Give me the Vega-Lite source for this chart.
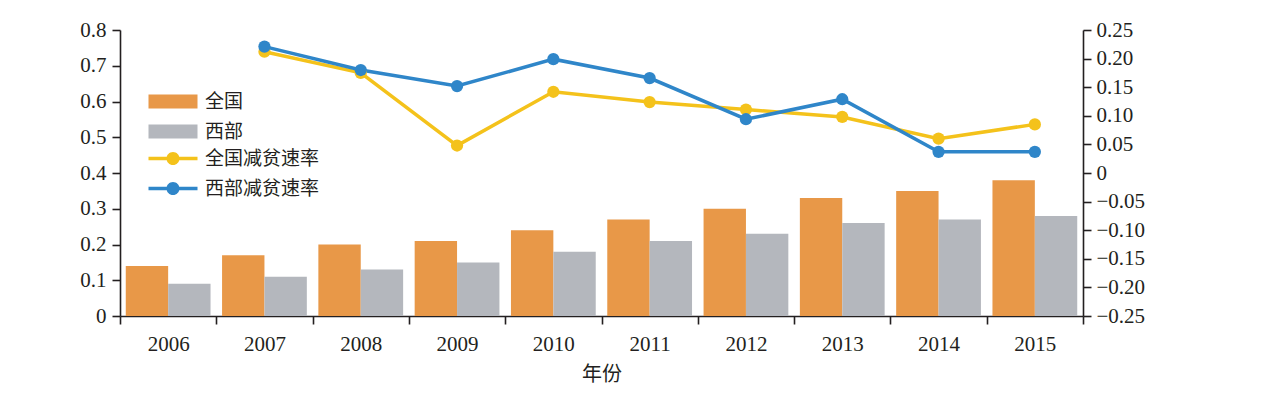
{
  "$schema": "https://vega.github.io/schema/vega-lite/v6.json",
  "width": 963,
  "height": 286,
  "autosize": {"type": "none"},
  "padding": {"left": 120, "top": 30, "right": 186, "bottom": 81},
  "background": "white",
  "config": {
    "view": {"stroke": null},
    "font": "Liberation Serif",
    "axis": {
      "domainColor": "#231f20",
      "tickColor": "#231f20",
      "labelColor": "#231f20",
      "titleColor": "#231f20",
      "grid": false,
      "labelFont": "Liberation Serif",
      "labelFontSize": 21,
      "domainWidth": 1.6,
      "tickWidth": 1.6,
      "tickSize": 8
    },
    "legend": {
      "labelFont": "Noto Sans CJK SC",
      "labelFontSize": 19,
      "labelColor": "#231f20",
      "padding": 0
    }
  },
  "data": {
    "values": [
      {"year": "2006", "全国": 0.14, "西部": 0.09, "全国减贫速率": null, "西部减贫速率": null},
      {"year": "2007", "全国": 0.17, "西部": 0.11, "全国减贫速率": 0.212, "西部减贫速率": 0.221},
      {"year": "2008", "全国": 0.20, "西部": 0.13, "全国减贫速率": 0.175, "西部减贫速率": 0.180},
      {"year": "2009", "全国": 0.21, "西部": 0.15, "全国减贫速率": 0.048, "西部减贫速率": 0.152},
      {"year": "2010", "全国": 0.24, "西部": 0.18, "全国减贫速率": 0.142, "西部减贫速率": 0.199},
      {"year": "2011", "全国": 0.27, "西部": 0.21, "全国减贫速率": 0.124, "西部减贫速率": 0.166},
      {"year": "2012", "全国": 0.30, "西部": 0.23, "全国减贫速率": 0.111, "西部减贫速率": 0.094},
      {"year": "2013", "全国": 0.33, "西部": 0.26, "全国减贫速率": 0.098, "西部减贫速率": 0.129},
      {"year": "2014", "全国": 0.35, "西部": 0.27, "全国减贫速率": 0.060, "西部减贫速率": 0.037},
      {"year": "2015", "全国": 0.38, "西部": 0.28, "全国减贫速率": 0.085, "西部减贫速率": 0.037}
    ]
  },
  "encoding": {
    "x": {
      "field": "year",
      "type": "ordinal",
      "scale": {"paddingInner": 0, "paddingOuter": 0},
      "axis": {
        "title": "年份",
        "labelAngle": 0,
        "tickBand": "extent",
        "labelPadding": 9,
        "titlePadding": 10,
        "titleFont": "Noto Sans CJK SC",
        "titleFontWeight": "normal",
        "titleFontSize": 20
      }
    }
  },
  "layer": [
    {
      "transform": [{"fold": ["全国", "西部"], "as": ["series", "value"]}],
      "mark": {"type": "bar"},
      "encoding": {
        "xOffset": {
          "field": "series",
          "type": "nominal",
          "sort": ["全国", "西部"],
          "scale": {"paddingInner": 0, "paddingOuter": 0.136}
        },
        "y": {
          "field": "value",
          "type": "quantitative",
          "scale": {"domain": [0, 0.8], "nice": false, "zero": true},
          "axis": {
            "title": null,
            "values": [0, 0.1, 0.2, 0.3, 0.4, 0.5, 0.6, 0.7, 0.8],
            "labelExpr": "datum.value == 0 ? '0' : format(datum.value, '.1f')",
            "labelPadding": 6
          }
        },
        "fill": {
          "field": "series",
          "type": "nominal",
          "scale": {"domain": ["全国", "西部"], "range": ["#E89848", "#B4B7BD"]},
          "legend": {
            "title": null,
            "orient": "none",
            "legendX": 26,
            "legendY": 62,
            "symbolType": "M-1,-1H6V1H-1Z",
            "symbolSize": 196,
            "symbolStrokeWidth": 0,
            "labelOffset": 40,
            "rowPadding": 10
          }
        }
      }
    },
    {
      "transform": [
        {"fold": ["全国减贫速率", "西部减贫速率"], "as": ["series2", "rate"]},
        {"filter": "isValid(datum.rate)"}
      ],
      "encoding": {
        "y": {
          "field": "rate",
          "type": "quantitative",
          "scale": {"domain": [-0.25, 0.25], "nice": false, "zero": false},
          "axis": {
            "title": null,
            "orient": "right",
            "values": [-0.25, -0.2, -0.15, -0.1, -0.05, 0, 0.05, 0.1, 0.15, 0.2, 0.25],
            "labelExpr": "datum.value == 0 ? '0' : replace(format(datum.value, '.2f'), '-', '−')",
            "labelPadding": 5
          }
        },
        "color": {
          "field": "series2",
          "type": "nominal",
          "scale": {"domain": ["全国减贫速率", "西部减贫速率"], "range": ["#F4C21B", "#2F86C9"]},
          "legend": {
            "title": null,
            "orient": "none",
            "legendX": 26,
            "legendY": 119,
            "symbolType": "M-1,-0.25H6V0.25H-1Z M1.57,0A0.93,0.93 0 1,1 3.43,0A0.93,0.93 0 1,1 1.57,0Z",
            "symbolSize": 196,
            "symbolStrokeWidth": 0,
            "labelOffset": 40,
            "rowPadding": 10,
            "encode": {
              "symbols": {
                "update": {
                  "fill": {"signal": "datum.value === '全国减贫速率' ? '#F4C21B' : '#2F86C9'"},
                  "fillOpacity": {"value": 1},
                  "strokeWidth": {"value": 0}
                }
              }
            }
          }
        }
      },
      "layer": [
        {"mark": {"type": "line", "strokeWidth": 3.5}},
        {"mark": {"type": "point", "filled": true, "size": 150, "opacity": 1}}
      ]
    }
  ],
  "resolve": {"scale": {"y": "independent"}}
}
